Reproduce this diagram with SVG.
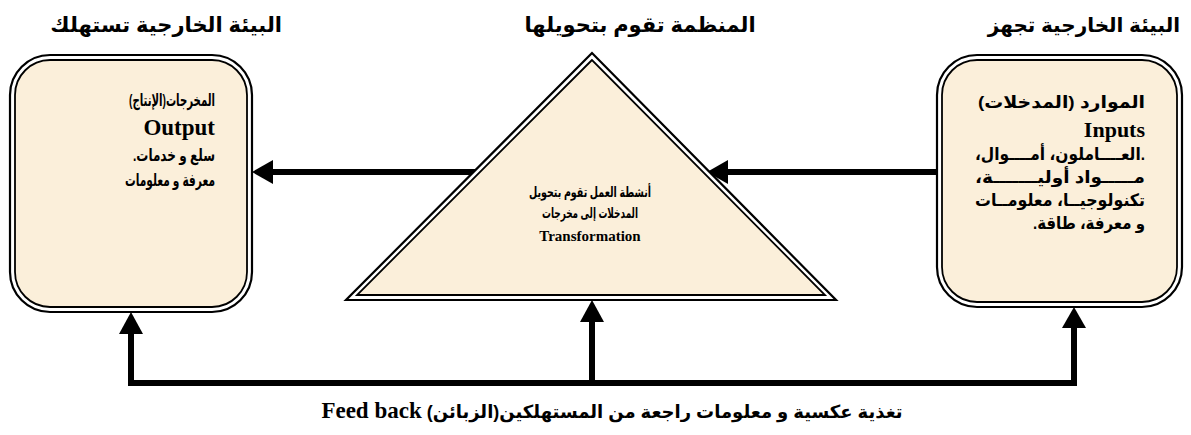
<svg xmlns="http://www.w3.org/2000/svg" width="1191" height="435" viewBox="0 0 1191 435">
<style>
.ar{font-family:"Liberation Sans","DejaVu Sans",sans-serif;font-weight:bold;fill:#000}
.lat{font-family:"Liberation Serif","DejaVu Serif",serif;font-weight:bold;fill:#000}
.outer{fill:#fff;stroke:#000;stroke-width:2.2}
.inner{fill:#FBEFDA;stroke:#000;stroke-width:1.8}
.conn{fill:none;stroke:#000;stroke-width:6;stroke-linejoin:miter}
.head{fill:#000}
</style>
<rect width="1191" height="435" fill="#fff"/>
<text class="ar" x="282" y="32" font-size="21" text-anchor="start" direction="rtl">البيئة الخارجية تستهلك</text>
<text class="ar" x="640" y="32" font-size="21" text-anchor="middle" direction="rtl">المنظمة تقوم بتحويلها</text>
<text class="ar" x="1180" y="32" font-size="20" text-anchor="start" direction="rtl">البيئة الخارجية تجهز</text>
<g id="connectors">
<line class="conn" x1="475" y1="172" x2="268" y2="172"/>
<polygon class="head" points="252,172 273,160 273,184"/>
<line class="conn" x1="937" y1="172" x2="724" y2="172"/>
<polygon class="head" points="707,172 728,160 728,184"/>
<polyline class="conn" points="131,330 131,383 1074,383 1074,325"/>
<line class="conn" x1="592" y1="383" x2="592" y2="320"/>
<polygon class="head" points="131,312 119,334 143,334"/>
<polygon class="head" points="592,300 580,322 604,322"/>
<polygon class="head" points="1074,307 1062,328 1086,328"/>
</g>
<g id="outputs">
<rect class="outer" x="10" y="55" width="242" height="257" rx="40"/>
<rect class="inner" x="15" y="60" width="232" height="247" rx="35"/>
<text class="ar" x="215" y="106" font-size="17" text-anchor="start" direction="rtl" textLength="86" lengthAdjust="spacingAndGlyphs">المخرجات(الإنتاج)</text>
<text class="lat" x="215" y="135" font-size="23" text-anchor="end">Output</text>
<text class="ar" x="215" y="161" font-size="17" text-anchor="start" direction="rtl" textLength="82" lengthAdjust="spacingAndGlyphs">سلع و خدمات.</text>
<text class="ar" x="215" y="186" font-size="17" text-anchor="start" direction="rtl" textLength="90" lengthAdjust="spacingAndGlyphs">معرفة و معلومات</text>
</g>
<g id="transformation">
<polygon class="outer" points="592,53 346,300 836,300"/>
<polygon class="inner" points="592,60 357,295 825,295"/>
<text class="ar" x="590" y="197" font-size="14" text-anchor="middle" direction="rtl" textLength="122" lengthAdjust="spacingAndGlyphs">أنشطة العمل تقوم بتحويل</text>
<text class="ar" x="590" y="218" font-size="14" text-anchor="middle" direction="rtl" textLength="96" lengthAdjust="spacingAndGlyphs">المدخلات إلى مخرجات</text>
<text class="lat" x="590" y="241" font-size="15" text-anchor="middle">Transformation</text>
</g>
<g id="inputs">
<rect class="outer" x="937" y="55" width="245" height="252" rx="40"/>
<rect class="inner" x="942" y="60" width="235" height="242" rx="35"/>
<text class="ar" x="1145" y="108" font-size="17" text-anchor="start" direction="rtl" textLength="167" lengthAdjust="spacingAndGlyphs">الموارد (المدخلات)</text>
<text class="lat" x="1145" y="137" font-size="22" text-anchor="end">Inputs</text>
<text class="ar" x="1145" y="160" font-size="17" text-anchor="start" direction="rtl" textLength="170" lengthAdjust="spacingAndGlyphs">.العــــاملون، أمــــوال،</text>
<text class="ar" x="1145" y="183" font-size="17" text-anchor="start" direction="rtl" textLength="170" lengthAdjust="spacingAndGlyphs">مـــــواد أوليـــــــة،</text>
<text class="ar" x="1145" y="206" font-size="17" text-anchor="start" direction="rtl" textLength="170" lengthAdjust="spacingAndGlyphs">تكنولوجيــا، معلومــات</text>
<text class="ar" x="1145" y="229" font-size="17" text-anchor="start" direction="rtl" textLength="112" lengthAdjust="spacingAndGlyphs">و معرفة، طاقة.</text>
</g>
<text class="ar" x="612" y="418" font-size="18" text-anchor="middle" direction="rtl">تغذية عكسية و معلومات راجعة من المستهلكين(الزبائن) <tspan class="lat" font-size="23">Feed back</tspan></text>
</svg>
